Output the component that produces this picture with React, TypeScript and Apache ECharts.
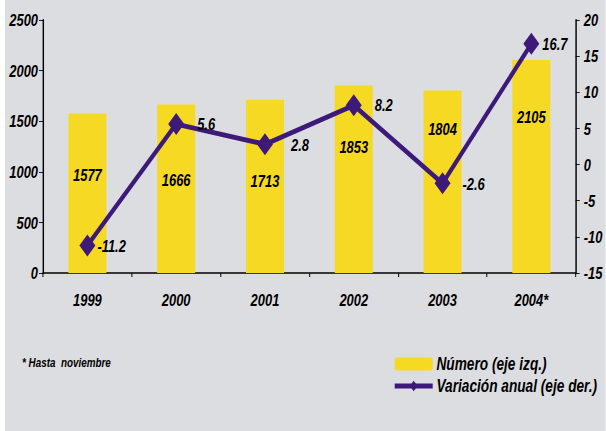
import React, { useEffect, useRef } from "react";
import * as echarts from "echarts";

const years = ["1999", "2000", "2001", "2002", "2003", "2004*"];
const numero = [1577, 1666, 1713, 1853, 1804, 2105];
const variacion = [-11.2, 5.6, 2.8, 8.2, -2.6, 16.7];
const leftTicks = { min: 0, max: 2500, interval: 500 };
const rightTicks = { min: -15, max: 20, interval: 5 };
const barLabelLift = [90, 85, 84, 118, 136, 148];
const lineLabelGap = [2, 13, 18, 13, 12, 3];

// The chart is drawn wider and squeezed horizontally to imitate a narrow typeface.
const SX = 0.76;
const W = 606 / SX;
const H = 431;
const FONT = "'Liberation Sans', Arial, sans-serif";
const txt = { fontFamily: FONT, fontWeight: "bold" as const, fontStyle: "italic" as const, color: "#000" };
const PURPLE = "#3d1a7a";
const YELLOW = "#f6d923";

export default function App() {
  const ref = useRef<HTMLDivElement>(null);
  useEffect(() => {
    document.body.style.margin = "0";
    const chart = echarts.init(ref.current!, null, { renderer: "svg" });
    chart.setOption({
      animation: false,
      backgroundColor: "#dcdde0",
      grid: { left: 43 / SX, right: 30 / SX, top: 20, bottom: 158 },
      legend: {
        orient: "vertical",
        left: 389 / SX,
        top: 350,
        itemWidth: 38 / SX,
        itemHeight: 13,
        itemGap: 4,
        textStyle: { ...txt, fontSize: 18 },
        lineStyle: { width: 5 },
        data: ["Número (eje izq.)", "Variación anual (eje der.)"],
      },
      graphic: [
        { type: "rect", left: 0, top: 0, shape: { width: 5 / SX, height: H }, style: { fill: "#ffffff" } },
        {
          type: "text",
          left: 22 / SX,
          top: 356,
          style: { text: "* Hasta  noviembre", font: `italic bold 13px ${FONT}`, fill: "#000" },
        },
      ],
      xAxis: {
        type: "category",
        data: years,
        axisLine: { lineStyle: { color: "#000", width: 1.5 } },
        axisTick: { show: true, length: 4, lineStyle: { color: "#000", width: 1.3 } },
        axisLabel: { ...txt, fontSize: 17, margin: 18 },
      },
      yAxis: [
        {
          type: "value",
          ...leftTicks,
          position: "left",
          splitLine: { show: false },
          axisLine: { show: true, lineStyle: { color: "#000", width: 1.9 } },
          axisTick: { show: true, length: 4 / SX, lineStyle: { color: "#000" } },
          axisLabel: { ...txt, fontSize: 17, margin: 5 / SX, formatter: (v: number) => String(v) },
        },
        {
          type: "value",
          ...rightTicks,
          position: "right",
          splitLine: { show: false },
          axisLine: { show: true, lineStyle: { color: "#000", width: 1.9 } },
          axisTick: { show: true, length: 4 / SX, lineStyle: { color: "#000" } },
          axisLabel: { ...txt, fontSize: 17, margin: 8 / SX, formatter: (v: number) => String(v) },
        },
      ],
      series: [
        {
          name: "Número (eje izq.)",
          type: "bar",
          yAxisIndex: 0,
          barWidth: 38 / SX,
          itemStyle: { color: YELLOW },
          data: numero.map((v, i) => ({
            value: v,
            label: { distance: barLabelLift[i] },
          })),
          label: { show: true, position: "insideBottom", ...txt, fontSize: 17 },
          z: 1,
        },
        {
          name: "Variación anual (eje der.)",
          type: "line",
          yAxisIndex: 1,
          data: variacion.map((v, i) => ({
            value: v,
            label: { distance: lineLabelGap[i] / SX },
          })),
          symbol: "diamond",
          symbolSize: [16 / SX, 22],
          itemStyle: { color: PURPLE },
          lineStyle: { color: PURPLE, width: 5 },
          label: { show: true, position: "right", ...txt, fontSize: 17 },
          z: 3,
        },
      ],
    });
    return () => chart.dispose();
  }, []);
  return (
    <div style={{ width: 606, height: H, overflow: "hidden", position: "relative" }}>
      <div
        ref={ref}
        style={{ width: W, height: H, transform: `scaleX(${SX})`, transformOrigin: "0 0" }}
      />
    </div>
  );
}
